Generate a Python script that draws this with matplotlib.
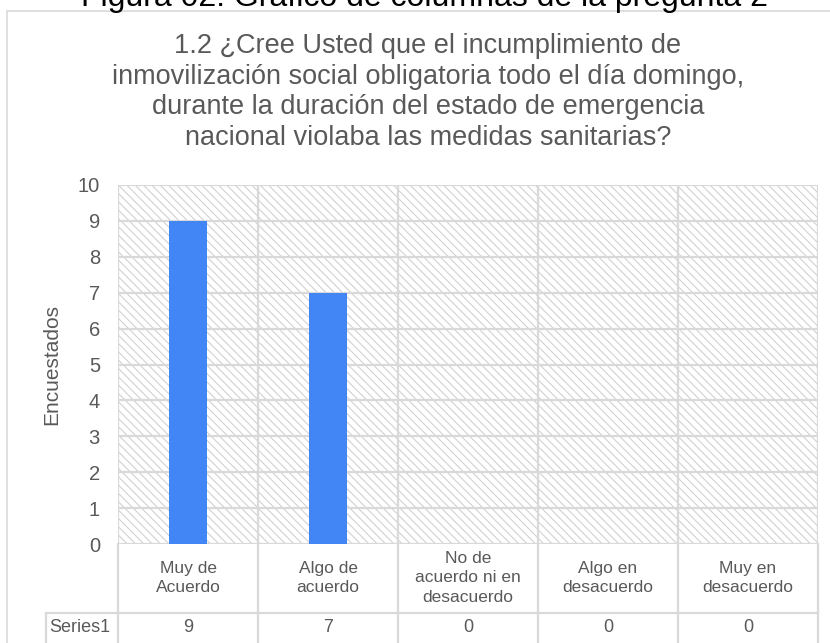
import matplotlib.pyplot as plt
from matplotlib.patches import Rectangle
from matplotlib.lines import Line2D
import matplotlib.transforms as mtransforms

plt.rcParams['font.family'] = ['Liberation Sans', 'DejaVu Sans']
plt.rcParams['hatch.linewidth'] = 0.7

# Data
categories = ["Muy de\nAcuerdo", "Algo de\nacuerdo", "No de\nacuerdo ni en\ndesacuerdo",
              "Algo en\ndesacuerdo", "Muy en\ndesacuerdo"]
values = [9, 7, 0, 0, 0]
series_name = "Series1"
y_ticks = list(range(0, 11))

W, H = 830, 643
GRAY = '#595959'
GRID = '#d9d9d9'

fig = plt.figure(figsize=(W / 100, H / 100), dpi=100)


def fx(px):
    return px / W


def fy(py):
    return 1 - py / H


# caption (cut off at the top, as in the source)
fig.text(fx(424), fy(6), "Figura 02. Gráfico de columnas de la pregunta 2",
         ha='center', va='baseline', fontsize=23, color='black')

# outer chart border
fig.add_artist(Rectangle((fx(7), fy(660)), fx(840), fy(11) - fy(660),
                         transform=fig.transFigure, fill=False,
                         edgecolor=GRID, lw=1.2))

fig.text(fx(428), fy(92),
         "1.2 ¿Cree Usted que el incumplimiento de\n"
         "inmovilización social obligatoria todo el día domingo,\n"
         "durante la duración del estado de emergencia\n"
         "nacional violaba las medidas sanitarias?",
         ha='center', va='center', fontsize=19.5, color=GRAY, linespacing=1.24)

left, right, top, bottom = 118, 818, 185, 544
ax = fig.add_axes([fx(left), fy(bottom), fx(right) - fx(left), fy(top) - fy(bottom)])

x = list(range(len(categories)))
ax.set_xlim(-0.5, len(categories) - 0.5)
ax.set_ylim(0, 10)

# hatched plot background
ax.add_patch(Rectangle((0, 0), 1, 1, transform=ax.transAxes, facecolor='white',
                       edgecolor='#cccccc', hatch='\\\\\\\\', lw=0, zorder=0))

for t in y_ticks:
    ax.axhline(t, color=GRID, lw=1.6, zorder=1)
for b in [i - 0.5 for i in range(len(categories) + 1)]:
    ax.axvline(b, color=GRID, lw=1.6, zorder=1)

ax.bar(x, values, width=0.27, color='#4285f4', zorder=2)

for s in ax.spines.values():
    s.set_visible(False)
ax.set_xticks([])
ax.set_yticks(y_ticks)
ax.tick_params(axis='y', length=0, labelsize=14.5, labelcolor=GRAY, pad=13)
ax.set_ylabel("Encuestados", fontsize=15, color=GRAY, labelpad=12)

# data table below the axis
trans = mtransforms.blended_transform_factory(ax.transData, fig.transFigure)
for i, (c, v) in enumerate(zip(categories, values)):
    ax.text(i, fy(578), c, transform=trans, ha='center', va='center',
            fontsize=12.5, color=GRAY, linespacing=1.4)
    ax.text(i, fy(628), str(v), transform=trans, ha='center', va='center',
            fontsize=13, color=GRAY)
for b in [i - 0.5 for i in range(len(categories) + 1)]:
    ax.add_line(Line2D([b, b], [fy(544), fy(643)], transform=trans,
                       color=GRID, lw=1.6, clip_on=False))
fig.add_artist(Line2D([fx(46), fx(818)], [fy(613), fy(613)],
                      transform=fig.transFigure, color=GRID, lw=1.6))
fig.add_artist(Line2D([fx(46), fx(46)], [fy(613), fy(643)],
                      transform=fig.transFigure, color=GRID, lw=1.6))
fig.text(fx(80), fy(628), series_name, ha='center', va='center',
         fontsize=13, color=GRAY)

fig.savefig("out.png", dpi=100)
